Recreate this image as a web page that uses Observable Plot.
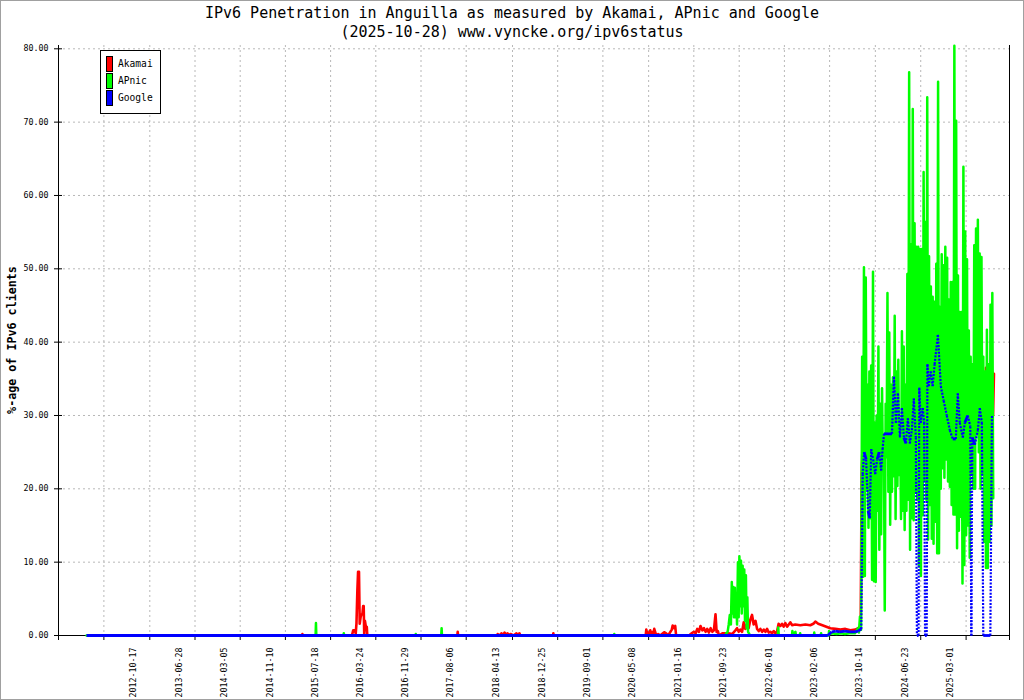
<!DOCTYPE html>
<html>
<head>
<meta charset="utf-8">
<script src="https://cdn.jsdelivr.net/npm/d3@7"></script>
<script src="https://cdn.jsdelivr.net/npm/@observablehq/plot@0.6"></script>
<style>
  body { margin: 0; background: #fff; }
  #wrap { position: relative; width: 1024px; height: 700px; background: #fff; font-family: "DejaVu Sans Mono", monospace; color: #000; }
  #wrap svg { position: absolute; left: 0; top: 0; }
  #title { position: absolute; left: 0; top: 4px; width: 1024px; text-align: center; font-size: 15px; line-height: 18.5px; }
  #ylabel { position: absolute; left: -138px; top: 332px; width: 300px; text-align: center; font-size: 11.7px; font-weight: bold; line-height: 16px; transform: rotate(-90deg); }
  #legend { position: absolute; left: 100px; top: 50px; width: 61px; height: 64px; border: 1px solid #000; box-sizing: border-box; background: #fff; }
  .sw { position: absolute; left: 5px; width: 7px; height: 16px; border: 1px solid #000; box-sizing: border-box; }
  .lt { position: absolute; left: 17px; font-size: 9.6px; line-height: 16px; }
  #border { position: absolute; left: 0; top: 0; width: 1024px; height: 700px; border: 1px solid #a0a0a0; box-sizing: border-box; pointer-events: none; }
</style>
</head>
<body>
<div id="wrap">
  <div id="chart"></div>
  <div id="title">IPv6 Penetration in Anguilla as measured by Akamai, APnic and Google<br>(2025-10-28) www.vyncke.org/ipv6status</div>
  <div id="ylabel">%-age of IPv6 clients</div>
  <div id="legend"></div>
  <div id="border"></div>
</div>
<script>
// axis labels as printed under the chart
const labelDates = ["2012-10-17", "2013-06-28", "2014-03-05", "2014-11-10", "2015-07-18", "2016-03-24",
  "2016-11-29", "2017-08-06", "2018-04-13", "2018-12-25", "2019-09-01", "2020-05-08", "2021-01-16",
  "2021-09-23", "2022-06-01", "2023-02-06", "2023-10-14", "2024-06-23", "2025-03-01"];
const yTicks = [0, 10, 20, 30, 40, 50, 60, 70, 80];

const seriesNames = ["Akamai", "APnic", "Google"];
const seriesColors = ["#ff0000", "#00ff00", "#0000ff"];

// [date, % of IPv6 clients]
const akamai = [
  ["2015-05-01", 0], ["2015-05-07", 0], ["2015-05-09", 0.2], ["2015-05-11", 0],
  ["2016-02-05", 0], ["2016-02-09", 0.2], ["2016-02-14", 0.7], ["2016-02-22", 0.7], ["2016-02-28", 0.3],
  ["2016-03-03", 1.6], ["2016-03-08", 6.1], ["2016-03-12", 8.7], ["2016-03-17", 8.7], ["2016-03-21", 1.6],
  ["2016-03-26", 2.5], ["2016-03-31", 2.9], ["2016-04-05", 2.9], ["2016-04-09", 4.0], ["2016-04-12", 4.0],
  ["2016-04-15", 0.2], ["2016-04-19", 2.0], ["2016-04-24", 1.2], ["2016-04-29", 1.2], ["2016-05-02", 0],
  ["2017-09-12", 0], ["2017-09-14", 0.5], ["2017-09-16", 0],
  ["2018-04-21", 0], ["2018-04-23", 0.2], ["2018-05-05", 0], ["2018-05-14", 0.3], ["2018-05-22", 0],
  ["2018-05-31", 0.4], ["2018-06-08", 0.1], ["2018-06-16", 0.3], ["2018-06-25", 0], ["2018-07-03", 0.2],
  ["2018-07-20", 0], ["2018-08-05", 0.3], ["2018-08-13", 0.1], ["2018-08-22", 0.3], ["2018-08-26", 0],
  ["2019-02-23", 0], ["2019-02-25", 0.3], ["2019-02-27", 0],
  ["2020-07-20", 0], ["2020-07-23", 0.8], ["2020-07-28", 0.3], ["2020-08-03", 0.4], ["2020-08-08", 0.1],
  ["2020-08-14", 0.7], ["2020-08-19", 0.2], ["2020-08-25", 0.45], ["2020-08-30", 0.1], ["2020-09-05", 0.9],
  ["2020-09-16", 0], ["2020-09-27", 0.2], ["2020-10-08", 0], ["2020-10-30", 0.45], ["2020-11-10", 0.3],
  ["2020-11-21", 0], ["2020-12-11", 0.8], ["2020-12-16", 1.36], ["2020-12-24", 1.0], ["2020-12-30", 1.3],
  ["2021-01-04", 0],
  ["2021-03-20", 0], ["2021-03-25", 0.2], ["2021-04-12", 0.5], ["2021-04-22", 0.3], ["2021-05-01", 0.9],
  ["2021-05-10", 0.5], ["2021-05-19", 1.3], ["2021-05-29", 0.7], ["2021-06-07", 1.0], ["2021-06-16", 0.5],
  ["2021-06-25", 0.9], ["2021-07-04", 0.4], ["2021-07-14", 1.0], ["2021-07-23", 0.5], ["2021-08-01", 0.7],
  ["2021-08-10", 2.9], ["2021-08-16", 0.5], ["2021-08-23", 0.6], ["2021-08-29", 0], ["2021-09-17", 0.3],
  ["2021-10-20", 0.3], ["2021-11-10", 0.2], ["2021-11-28", 0.7], ["2021-12-07", 1.0], ["2021-12-16", 0.5],
  ["2021-12-25", 0.8], ["2022-01-04", 0.5], ["2022-01-13", 1.8], ["2022-01-22", 0.9], ["2022-01-31", 1.5],
  ["2022-02-09", 1.0], ["2022-02-19", 2.2], ["2022-02-28", 2.8], ["2022-03-09", 1.5], ["2022-03-19", 2.0],
  ["2022-03-28", 0.9], ["2022-04-06", 0.6], ["2022-04-15", 0.9], ["2022-04-25", 0.5], ["2022-05-04", 0.8],
  ["2022-05-13", 0.5], ["2022-05-22", 0.9], ["2022-05-31", 0.4], ["2022-06-09", 0.5], ["2022-06-19", 0.3],
  ["2022-06-28", 0.6], ["2022-07-07", 0.3], ["2022-07-16", 0.5], ["2022-07-25", 1.6], ["2022-08-04", 1.3],
  ["2022-08-13", 1.6], ["2022-08-22", 1.2], ["2022-08-31", 1.7], ["2022-09-10", 1.2], ["2022-09-19", 1.5],
  ["2022-09-28", 1.8], ["2022-10-07", 1.4], ["2022-10-25", 1.5], ["2022-11-22", 1.4], ["2022-12-20", 1.5],
  ["2023-01-16", 1.4], ["2023-02-02", 1.6], ["2023-02-13", 1.9], ["2023-03-01", 1.6], ["2023-03-24", 1.4],
  ["2023-04-15", 1.2], ["2023-05-07", 1.0], ["2023-06-04", 0.9], ["2023-07-02", 0.8], ["2023-07-29", 0.9],
  ["2023-08-26", 0.7], ["2023-09-23", 0.8], ["2023-10-08", 1.0], ["2023-10-22", 1.0], ["2023-10-27", 22],
  ["2023-11-01", 25.7], ["2023-11-05", 23.5], ["2023-11-09", 26], ["2023-11-13", 24], ["2023-11-18", 27.5],
  ["2023-11-22", 24.8], ["2023-11-26", 27], ["2023-12-01", 25],
  ["2023-12-05", null],
  ["2025-09-09", 26], ["2025-09-14", 36.5], ["2025-09-20", 24], ["2025-09-25", 33], ["2025-10-01", 23.5],
  ["2025-10-06", 30], ["2025-10-12", 26], ["2025-10-17", 36], ["2025-10-23", 30], ["2025-10-28", 35.7]
];

const apnic = [
  ["2012-01-31", 0], ["2015-07-21", 0], ["2015-07-23", 1.7], ["2015-07-25", 0],
  ["2015-12-22", 0], ["2015-12-24", 0.3], ["2015-12-26", 0],
  ["2017-01-23", 0], ["2017-01-25", 0.2], ["2017-01-27", 0],
  ["2017-06-15", 0], ["2017-06-17", 1.0], ["2017-06-19", 0],
  ["2020-01-26", 0], ["2020-01-28", 0.2], ["2020-01-30", 0],
  ["2021-10-04", 0], ["2021-10-08", 0.3], ["2021-10-16", 0.5], ["2021-10-22", 1.5], ["2021-10-28", 2.8],
  ["2021-11-03", 1.5], ["2021-11-08", 7.3], ["2021-11-12", 3.0], ["2021-11-16", 6.6], ["2021-11-20", 2.5],
  ["2021-11-25", 6.5], ["2021-11-29", 2.5], ["2021-12-03", 5.7], ["2021-12-07", 1.5], ["2021-12-12", 10.0],
  ["2021-12-16", 2.5], ["2021-12-20", 10.8], ["2021-12-24", 4.0], ["2021-12-29", 10.2], ["2022-01-02", 3.0],
  ["2022-01-07", 9.5], ["2022-01-11", 4.0], ["2022-01-16", 9.0], ["2022-01-20", 2.0], ["2022-01-25", 8.2],
  ["2022-01-29", 1.0], ["2022-02-02", 5.2], ["2022-02-06", 0.5], ["2022-02-11", 0.3], ["2022-02-16", 0],
  ["2022-07-20", 0], ["2022-07-23", 1.1], ["2022-07-26", 0], ["2022-10-07", 0], ["2022-10-09", 0.6],
  ["2022-10-12", 0.2], ["2022-10-26", 0.5], ["2022-10-29", 0], ["2022-11-19", 0], ["2022-11-21", 0.3],
  ["2022-11-23", 0], ["2023-02-05", 0], ["2023-02-07", 0.4], ["2023-02-09", 0], ["2023-03-15", 0],
  ["2023-03-17", 0.3], ["2023-03-19", 0], ["2023-04-28", 0], ["2023-04-30", 0.6], ["2023-05-05", 0.2],
  ["2023-05-17", 0.3], ["2023-06-10", 0.2], ["2023-07-05", 0.3], ["2023-07-27", 0.2], ["2023-08-20", 0.3],
  ["2023-09-20", 0.3], ["2023-10-07", 1.0], ["2023-10-12", 0.4], ["2023-10-18", 2.6], ["2023-10-24", 0.8],
  ["2023-10-30", 38], ["2023-11-04", 8], ["2023-11-09", 50.2], ["2023-11-14", 8.1], ["2023-11-19", 48.8],
  ["2023-11-24", 20], ["2023-11-29", 34.2], ["2023-12-04", 14.7], ["2023-12-09", 36], ["2023-12-14", 16],
  ["2023-12-19", 36.8], ["2023-12-24", 7.6], ["2023-12-29", 49.6], ["2024-01-03", 7.4], ["2024-01-08", 29],
  ["2024-01-13", 7.3], ["2024-01-18", 30], ["2024-01-23", 17], ["2024-01-28", 39.4], ["2024-02-02", 11.7],
  ["2024-02-07", 31.6], ["2024-02-12", 13.8], ["2024-02-17", 33.7], ["2024-02-22", 22.5], ["2024-02-27", 27.4],
  ["2024-03-03", 3.4], ["2024-03-08", 31.6], ["2024-03-13", 24.3], ["2024-03-18", 46.7], ["2024-03-23", 19.6],
  ["2024-03-28", 41.3], ["2024-04-02", 15.1], ["2024-04-07", 34.2], ["2024-04-12", 19.6], ["2024-04-17", 35.2],
  ["2024-04-22", 21.7], ["2024-04-27", 43.6], ["2024-05-02", 15.9], ["2024-05-07", 36], ["2024-05-12", 20.4],
  ["2024-05-17", 37.6], ["2024-05-22", 21.9], ["2024-05-27", 29], ["2024-06-01", 15.9], ["2024-06-06", 41.5],
  ["2024-06-11", 17], ["2024-06-16", 39.4], ["2024-06-21", 14.4], ["2024-06-26", 34.2], ["2024-07-01", 17],
  ["2024-07-06", 49.3], ["2024-07-11", 18.5], ["2024-07-16", 76.8], ["2024-07-21", 11.7], ["2024-07-26", 53.3],
  ["2024-07-31", 16], ["2024-08-05", 71.8], ["2024-08-10", 15.7], ["2024-08-15", 56.2], ["2024-08-20", 19.6],
  ["2024-08-25", 53], ["2024-08-30", 18.5], ["2024-09-04", 53], ["2024-09-09", 9.4], ["2024-09-14", 52.7],
  ["2024-09-19", 8.1], ["2024-09-24", 52.7], ["2024-09-29", 16.4], ["2024-10-04", 63.2], ["2024-10-09", 21.2],
  ["2024-10-14", 56.4], ["2024-10-19", 18.5], ["2024-10-24", 73.4], ["2024-10-29", 13.1], ["2024-11-03", 51.7],
  ["2024-11-08", 17.8], ["2024-11-13", 47.6], ["2024-11-18", 13.2], ["2024-11-23", 46.2], ["2024-11-28", 12.5],
  ["2024-12-03", 45.5], ["2024-12-08", 15.5], ["2024-12-13", 50.7], ["2024-12-18", 11.2], ["2024-12-23", 75.5],
  ["2024-12-28", 11.2], ["2025-01-02", 44.8], ["2025-01-07", 20], ["2025-01-12", 52], ["2025-01-17", 22.8],
  ["2025-01-22", 50.5], ["2025-01-27", 21.5], ["2025-02-01", 53], ["2025-02-06", 24], ["2025-02-11", 51.5],
  ["2025-02-16", 21], ["2025-02-21", 45.8], ["2025-02-26", 20.3], ["2025-03-03", 48.2], ["2025-03-08", 17.8],
  ["2025-03-13", 48.2], ["2025-03-18", 16.5], ["2025-03-23", 80.4], ["2025-03-28", 16.5], ["2025-04-02", 70.2],
  ["2025-04-07", 11.9], ["2025-04-12", 49.1], ["2025-04-17", 14.3], ["2025-04-22", 44.1], ["2025-04-27", 16.2],
  ["2025-05-02", 44.1], ["2025-05-07", 7.1], ["2025-05-12", 63.9], ["2025-05-17", 9.6], ["2025-05-22", 55.1],
  ["2025-05-27", 13.7], ["2025-06-01", 51.3], ["2025-06-06", 15], ["2025-06-11", 41.6], ["2025-06-16", 10.6],
  ["2025-06-21", 38], ["2025-06-26", 22], ["2025-07-01", 37], ["2025-07-06", 20], ["2025-07-11", 53.2],
  ["2025-07-16", 20], ["2025-07-21", 55.5], ["2025-07-26", 27.4], ["2025-07-31", 56.7], ["2025-08-05", 25],
  ["2025-08-10", 52.1], ["2025-08-15", 20], ["2025-08-20", 51.6], ["2025-08-25", 22], ["2025-08-30", 38],
  ["2025-09-04", 12.8], ["2025-09-09", 36], ["2025-09-14", 9.2], ["2025-09-19", 41.7], ["2025-09-24", 9.2],
  ["2025-09-29", 37], ["2025-10-04", 12.8], ["2025-10-09", 45.1], ["2025-10-14", 15], ["2025-10-19", 46.7],
  ["2025-10-24", 18.7]
];

const google = [
  ["2012-01-31", 0], ["2023-04-23", 0], ["2023-05-15", 0.5], ["2023-06-06", 0.6], ["2023-06-29", 0.5],
  ["2023-07-27", 0.6], ["2023-08-24", 0.5], ["2023-09-21", 0.5], ["2023-10-08", 0.6], ["2023-10-25", 0.9],
  ["2023-11-02", 22], ["2023-11-10", 25], ["2023-11-21", 24], ["2023-12-02", 17], ["2023-12-11", 16],
  ["2023-12-19", 25.4], ["2023-12-30", 24], ["2024-01-10", 22], ["2024-01-21", 24], ["2024-02-01", 25],
  ["2024-02-12", 22.5], ["2024-02-20", 25.4], ["2024-02-28", 27.5], ["2024-03-10", 27.5], ["2024-03-21", 27.5],
  ["2024-04-01", 27.5], ["2024-04-12", 27.5], ["2024-04-23", 35.3], ["2024-05-04", 29], ["2024-05-15", 33],
  ["2024-05-26", 27], ["2024-06-06", 31], ["2024-06-17", 27], ["2024-06-28", 26.2], ["2024-07-09", 29.6],
  ["2024-07-20", 26.2], ["2024-07-31", 28], ["2024-08-11", 32.3], ["2024-08-22", 27], ["2024-08-28", 0],
  ["2024-09-06", 0], ["2024-09-10", 33.8], ["2024-09-18", 29], ["2024-09-29", 31], ["2024-10-07", 29],
  ["2024-10-12", 0], ["2024-10-21", 0], ["2024-10-25", 37], ["2024-11-01", 34], ["2024-11-12", 36],
  ["2024-11-23", 34], ["2024-12-04", 37], ["2024-12-22", 41], ["2025-01-07", 34], ["2025-01-23", 32],
  ["2025-02-09", 30], ["2025-02-26", 28], ["2025-03-14", 26.8], ["2025-03-31", 26.8], ["2025-04-11", 33],
  ["2025-04-22", 29], ["2025-05-09", 27], ["2025-05-20", 29], ["2025-06-05", 30], ["2025-06-19", 28.5],
  ["2025-06-25", 0], ["2025-06-30", 27], ["2025-07-14", 26], ["2025-07-31", 28], ["2025-08-11", 31],
  ["2025-08-22", 29], ["2025-08-30", 0], ["2025-10-08", 0], ["2025-10-17", 30]
];

const toRows = (list) => list.map(([d, v]) => ({date: new Date(d), value: v}));
const akamaiRows = toRows(akamai);
const apnicRows = toRows(apnic);
const googleRows = toRows(google);

// google is drawn segment by segment so the steep parts come out dotted, like the original
const googleSegs = d3.pairs(googleRows).map(([a, b]) => ({d1: a.date, v1: a.value, d2: b.date, v2: b.value, steep: Math.abs(b.value - a.value) > 1}));

const xStart = new Date("2011-08-29");
const xEnd = new Date("2026-01-22");
// grid lines / tick marks sit 164 days before each printed label
const gridDates = [...labelDates, "2025-11-07"].map(d => d3.utcDay.offset(new Date(d), -164));
const tickMarks = [xStart, ...gridDates, xEnd];

const gridStyle = {stroke: "#b8b8b8", strokeOpacity: 1, strokeDasharray: "2,3"};

let chart = Plot.plot({
  width: 1024,
  height: 700,
  marginLeft: 58,
  marginRight: 15,
  marginTop: 45,
  marginBottom: 65,
  style: {fontFamily: "DejaVu Sans Mono", fontSize: "8.3px", background: "transparent", color: "#000"},
  x: {type: "utc", domain: [xStart, xEnd], label: null},
  y: {domain: [0, 80.45], label: null},
  marks: [
    Plot.gridX(gridDates, gridStyle),
    Plot.gridY(yTicks.filter(v => v > 0), gridStyle),
    Plot.ruleX([xStart, xEnd], {stroke: "#000"}),
    Plot.ruleY([0], {stroke: "#000"}),
    Plot.axisY(yTicks, {tickSize: 8, dx: 4, tickPadding: 6, tickFormat: d => d.toFixed(2), label: null}),
    Plot.axisX(tickMarks, {tickSize: 5, tickFormat: () => "", label: null}),
    Plot.axisX(labelDates.map(d => new Date(d)), {tickSize: 0, tickPadding: 12, tickRotate: -90, tickFormat: d3.utcFormat("%Y-%m-%d"), label: null}),
    Plot.line(akamaiRows, {x: "date", y: "value", stroke: seriesColors[0], strokeWidth: 2.6}),
    Plot.line(apnicRows, {x: "date", y: "value", stroke: seriesColors[1], strokeWidth: 2.5}),
    Plot.link(googleSegs.filter(s => !s.steep), {x1: "d1", y1: "v1", x2: "d2", y2: "v2", stroke: seriesColors[2], strokeWidth: 2.8}),
    Plot.link(googleSegs.filter(s => s.steep), {x1: "d1", y1: "v1", x2: "d2", y2: "v2", stroke: seriesColors[2], strokeWidth: 2.2, strokeDasharray: "2,1.4"})
  ]
});

d3.select("#chart").append(() => chart);

// legend box in the top left corner
const legend = d3.select("#legend");
seriesNames.forEach((name, i) => {
  legend.append("div").attr("class", "sw").style("top", (5 + i * 17) + "px").style("background", seriesColors[i]);
  legend.append("div").attr("class", "lt").style("top", (5 + i * 17) + "px").text(name);
});
</script>
</body>
</html>
